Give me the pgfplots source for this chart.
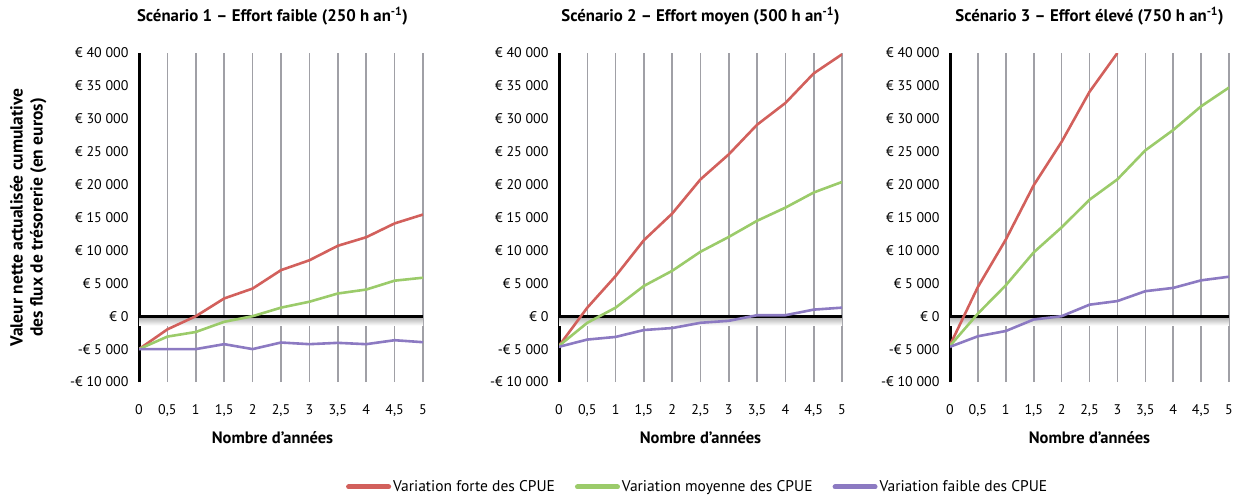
\documentclass[border=0pt]{standalone}
\usepackage{pgfplots}
\pgfplotsset{compat=1.18}
\usepackage{fontspec}
\setmainfont{PT Sans}
\definecolor{cred}{RGB}{210,96,92}
\definecolor{cgreen}{RGB}{155,203,106}
\definecolor{cpurple}{RGB}{140,122,194}
\definecolor{cgrid}{RGB}{160,160,166}

\pgfplotstableread{
x    r1     g1     p1     r2     g2     p2     g3     p3
0    -5000  -5000  -5000  -4500  -4500  -4650  -4500  -4650
0.5  -2000  -3100  -5000  1300   -1000  -3550  400    -3050
1    0      -2400  -5000  6100   1300   -3150  4700   -2250
1.5  2700   -850   -4250  11550  4600   -2100  9700   -500
2    4200   0      -5000  15600  6900   -1800  13500  0
2.5  7000   1300   -4000  20800  9800   -1000  17700  1750
3    8500   2200   -4250  24600  12050  -700   20800  2300
3.5  10700  3450   -4050  29100  14500  150    25200  3800
4    12000  4050   -4250  32400  16500  150    28300  4300
4.5  14100  5400   -3650  36900  18800  1000   31900  5450
5    15450  5850   -3950  39800  20400  1300   34750  6000
}\data

\pgfplotstableread{
x    r3
0    -4400
0.5  4450
1    11650
1.5  19900
2    26500
2.5  34100
3    40000
}\datared

\pgfplotsset{
  panel/.style={
    scale only axis, height=329pt,
    xmin=0, xmax=5, ymin=-10000, ymax=40000,
    scaled y ticks=false,
    axis x line*=bottom, x axis line style={draw=none},
    axis y line*=left, y axis line style={black, line width=3pt, -},
    xtick={0,0.5,...,5},
    xticklabels={0,{0,5},1,{1,5},2,{2,5},3,{3,5},4,{4,5},5},
    ytick={-10000,-5000,0,5000,10000,15000,20000,25000,30000,35000,40000},
    yticklabels={-€ 10 000,-€ 5 000,€ 0,€ 5 000,€ 10 000,€ 15 000,€ 20 000,€ 25 000,€ 30 000,€ 35 000,€ 40 000},
    tick style={draw=none},
    xmajorgrids, major grid style={cgrid, line width=1.6pt},
    ticklabel style={font=\fontsize{14}{16}\selectfont},
    xticklabel style={yshift=-19pt},
    yticklabel style={xshift=-7pt},
    xlabel={Nombre d’années},
    xlabel style={at={(axis description cs:0.5,-0.17)}, anchor=center, font=\fontsize{16.5}{19}\selectfont\bfseries},
    title style={at={(axis description cs:0.5,1.094)}, anchor=center, font=\fontsize{16.8}{20}\selectfont\bfseries},
    clip=true,
  },
}

\newcommand{\zeroline}{%
  \fill[top color=black!35, bottom color=white] (axis cs:0,0) rectangle (axis cs:5,-1400);
  \draw[black, line width=3pt] (axis cs:0,0) -- (axis cs:5,0);
}

\begin{document}
\begin{tikzpicture}
\useasboundingbox (0pt,0pt) rectangle (1242pt,496pt);

\begin{axis}[panel, at={(139pt,114pt)}, width=284pt,
  title={Scénario 1 – Effort faible (250 h an\textsuperscript{-1})},
  title style={at={(axis description cs:0.47,1.094)}},
  xlabel style={at={(axis description cs:0.47,-0.17)}},
  ylabel={Valeur nette actualisée cumulative\\des flux de trésorerie (en euros)},
  ylabel style={at={(axis description cs:-0.39,0.5)}, anchor=center, align=center, font=\fontsize{17.5}{20}\selectfont\bfseries},
]
\zeroline
\addplot[cred, line width=2.6pt] table[x=x, y=r1] {\data};
\addplot[cgreen, line width=2.6pt] table[x=x, y=g1] {\data};
\addplot[cpurple, line width=2.6pt] table[x=x, y=p1] {\data};
\end{axis}

\begin{axis}[panel, at={(559pt,114pt)}, width=283pt,
  title={Scénario 2 – Effort moyen (500 h an\textsuperscript{-1})},
  legend columns=3,
  legend style={at={(axis description cs:0.49,-0.319)}, anchor=center, draw=none,
    font=\fontsize{15.5}{18}\selectfont,
    /tikz/every even column/.append style={column sep=18pt}},
  legend image code/.code={\draw[line width=5pt, line cap=round] (0pt,0pt) -- (40pt,0pt);},
]
\zeroline
\addplot[cred, line width=2.6pt] table[x=x, y=r2] {\data};
\addplot[cgreen, line width=2.6pt] table[x=x, y=g2] {\data};
\addplot[cpurple, line width=2.6pt] table[x=x, y=p2] {\data};
\legend{Variation forte des CPUE, Variation moyenne des CPUE, Variation faible des CPUE}
\end{axis}

\begin{axis}[panel, at={(950pt,114pt)}, width=279pt,
  title={Scénario 3 – Effort élevé (750 h an\textsuperscript{-1})},
]
\zeroline
\addplot[cred, line width=2.6pt] table[x=x, y=r3] {\datared};
\addplot[cgreen, line width=2.6pt] table[x=x, y=g3] {\data};
\addplot[cpurple, line width=2.6pt] table[x=x, y=p3] {\data};
\end{axis}
\end{tikzpicture}
\end{document}
